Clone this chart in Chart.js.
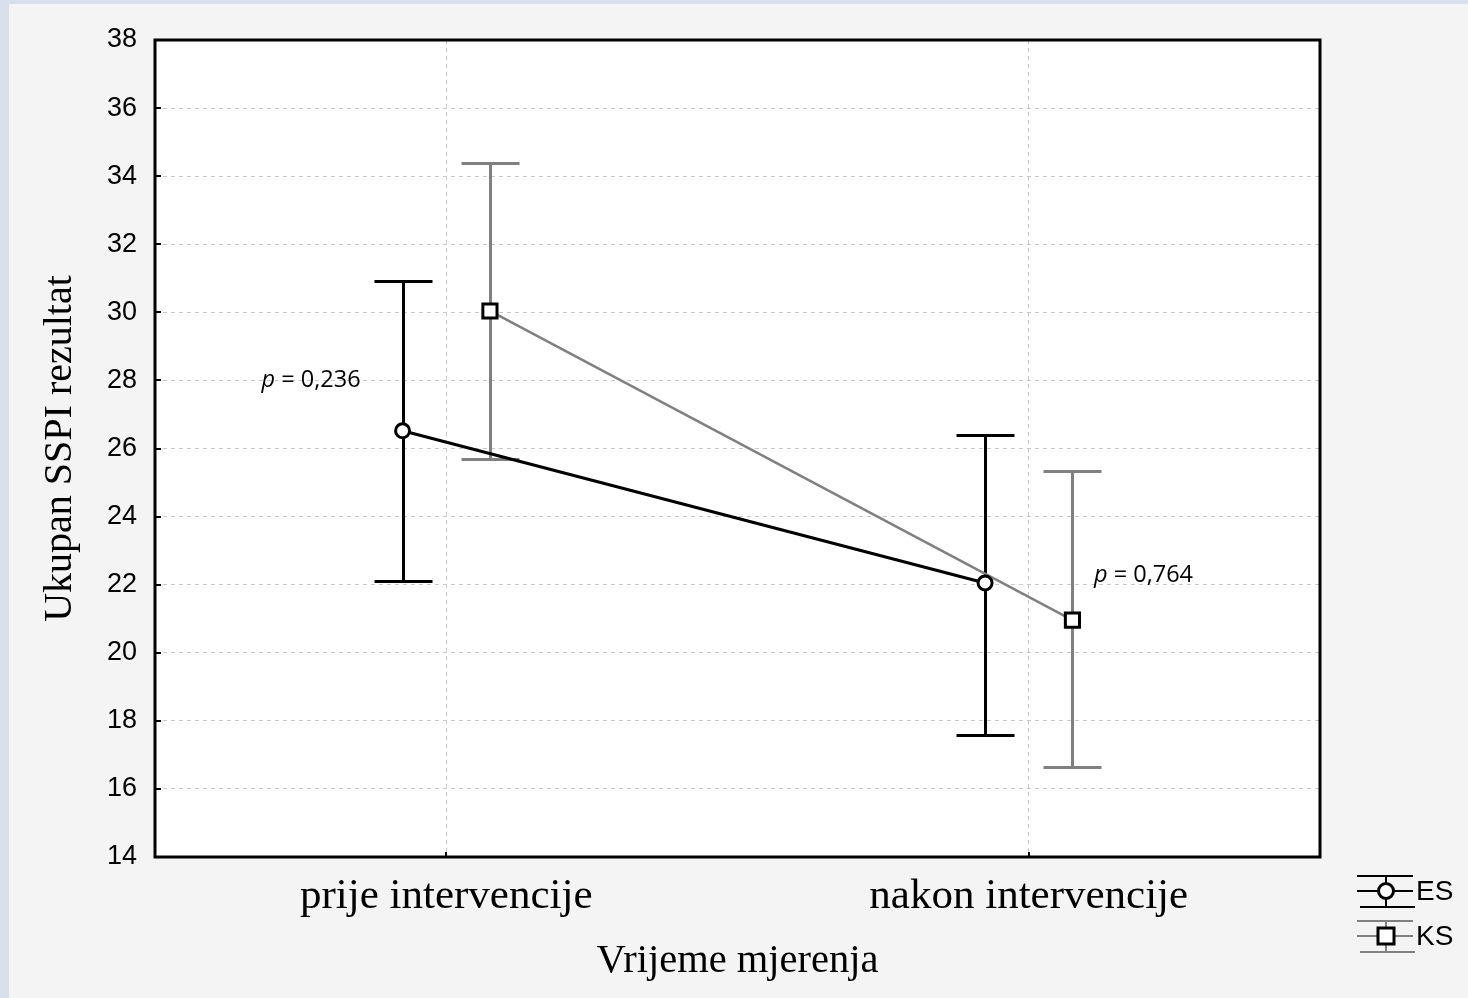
<!DOCTYPE html>
<html>
<head>
<meta charset="utf-8">
<script src="https://cdn.jsdelivr.net/npm/chart.js@4.4.0/dist/chart.umd.min.js"></script>
<style>
  html, body { margin: 0; padding: 0; background: #d9dfeb; }
  #frame { position: absolute; left: 9px; top: 4px; width: 1459px; height: 994px; background: #f4f4f4; }
  canvas { display: block; }
</style>
</head>
<body>
<div id="frame"><canvas id="c" width="1459" height="994"></canvas></div>
<script>
// Measurement times (x categories)
const categories = ['prije intervencije', 'nakon intervencije'];
// Group means and error bar limits
const esMean  = [26.52, 22.05];
const esLower = [22.11, 17.58];
const esUpper = [30.92, 26.40];
const ksMean  = [30.04, 20.96];
const ksLower = [25.70, 16.65];
const ksUpper = [34.38, 25.34];
// Y axis ticks
const yTicks = [14, 16, 18, 20, 22, 24, 26, 28, 30, 32, 34, 36, 38];
// Group comparison p-values at each time point
const pValues = ['0,236', '0,764'];
const seriesNames = ['ES', 'KS'];

const ES_COLOR = '#000000';
const KS_COLOR = '#808080';
const OFFSET = 0.075;      // horizontal dodge of each group around the category
const CAP = 29;            // half-width of error bar caps in px

function pts(means, shift) {
  return means.map((m, i) => ({ x: i + 0.5 + shift, y: m }));
}

const plotBackground = {
  id: 'plotBackground',
  beforeDraw(chart) {
    const { ctx, chartArea: a } = chart;
    ctx.save();
    ctx.fillStyle = '#ffffff';
    ctx.fillRect(a.left, a.top, a.right - a.left, a.bottom - a.top);
    ctx.restore();
  }
};

const errorBars = {
  id: 'errorBars',
  beforeDatasetsDraw(chart) {
    const { ctx, scales: { x, y } } = chart;
    const groups = [
      { lo: esLower, hi: esUpper, shift: -OFFSET, color: ES_COLOR, w: 3 },
      { lo: ksLower, hi: ksUpper, shift: OFFSET, color: KS_COLOR, w: 3 }
    ];
    ctx.save();
    groups.forEach(g => {
      ctx.strokeStyle = g.color;
      ctx.lineWidth = g.w;
      g.lo.forEach((lo, i) => {
        const px = Math.round(x.getPixelForValue(i + 0.5 + g.shift)) + 0.5;
        const yl = Math.round(y.getPixelForValue(lo)) + 0.5;
        const yh = Math.round(y.getPixelForValue(g.hi[i])) + 0.5;
        ctx.beginPath();
        ctx.moveTo(px, yl); ctx.lineTo(px, yh);
        ctx.moveTo(px - CAP, yl); ctx.lineTo(px + CAP, yl);
        ctx.moveTo(px - CAP, yh); ctx.lineTo(px + CAP, yh);
        ctx.stroke();
      });
    });
    ctx.restore();
  }
};

const frameAndNotes = {
  id: 'frameAndNotes',
  afterDraw(chart) {
    const { ctx, scales: { x, y }, chartArea: a } = chart;
    ctx.save();
    // inward tick marks
    ctx.strokeStyle = '#000';
    ctx.lineWidth = 2;
    ctx.beginPath();
    yTicks.forEach(v => {
      const py = Math.round(y.getPixelForValue(v));
      ctx.moveTo(a.left, py); ctx.lineTo(a.left + 6, py);
    });
    categories.forEach((c, i) => {
      const px = Math.round(x.getPixelForValue(i + 0.5));
      ctx.moveTo(px, a.bottom); ctx.lineTo(px, a.bottom - 5);
    });
    ctx.stroke();
    // plot frame
    ctx.lineWidth = 3;
    ctx.strokeRect(a.left, a.top, a.right - a.left, a.bottom - a.top);

    // p-value notes
    const notes = [
      { x: 0.183, y: 28.0 },
      { x: 1.612, y: 22.28 }
    ];
    ctx.fillStyle = '#000';
    ctx.textBaseline = 'middle';
    notes.forEach((n, i) => {
      let px = x.getPixelForValue(n.x);
      const py = y.getPixelForValue(n.y);
      ctx.font = 'italic 23.5px "Open Sans"';
      ctx.fillText('p', px, py);
      px += ctx.measureText('p ').width;
      ctx.font = '23.5px "Open Sans"';
      ctx.fillText('= ' + pValues[i], px, py);
    });

    // legend
    const lx = 1348, ly = [887, 932];
    const colors = [ES_COLOR, KS_COLOR];
    seriesNames.forEach((name, i) => {
      const cy = ly[i];
      const col = colors[i];
      ctx.strokeStyle = col;
      ctx.lineWidth = 2;
      ctx.beginPath();
      ctx.moveTo(lx, cy - 15); ctx.lineTo(lx + 56, cy - 15);
      ctx.moveTo(lx, cy); ctx.lineTo(lx + 56, cy);
      ctx.moveTo(lx + 3, cy + 16); ctx.lineTo(lx + 58, cy + 16);
      ctx.moveTo(lx + 29, cy - 15); ctx.lineTo(lx + 29, cy + 16);
      ctx.stroke();
      ctx.fillStyle = '#fff';
      ctx.strokeStyle = '#000';
      ctx.lineWidth = 3;
      if (i === 0) {
        ctx.beginPath();
        ctx.arc(lx + 29, cy, 7.5, 0, Math.PI * 2);
        ctx.fill(); ctx.stroke();
      } else {
        ctx.fillRect(lx + 21, cy - 8, 16, 16);
        ctx.strokeRect(lx + 21, cy - 8, 16, 16);
      }
      ctx.fillStyle = '#000';
      ctx.font = '28px "Liberation Sans"';
      ctx.textBaseline = 'middle';
      ctx.fillText(name, lx + 59, cy + 1);
    });
    ctx.restore();
  }
};

new Chart(document.getElementById('c'), {
  type: 'scatter',
  data: {
    datasets: [
      {
        label: seriesNames[0],
        data: pts(esMean, -OFFSET),
        showLine: true,
        borderColor: ES_COLOR,
        borderWidth: 3,
        pointStyle: 'circle',
        pointRadius: 7,
        pointBackgroundColor: '#fff',
        pointBorderColor: '#000',
        pointBorderWidth: 3
      },
      {
        label: seriesNames[1],
        data: pts(ksMean, OFFSET),
        showLine: true,
        borderColor: KS_COLOR,
        borderWidth: 2.5,
        pointStyle: 'rect',
        pointRadius: 10,
        pointBackgroundColor: '#fff',
        pointBorderColor: '#000',
        pointBorderWidth: 3
      }
    ]
  },
  options: {
    responsive: false,
    animation: false,
    layout: { padding: { top: 36, right: 148, left: 0, bottom: 0 } },
    plugins: { legend: { display: false }, tooltip: { enabled: false } },
    scales: {
      x: {
        type: 'linear',
        min: 0, max: 2,
        afterBuildTicks(s) { s.ticks = categories.map((c, i) => ({ value: i + 0.5 })); },
        afterFit(s) { s.height = 141; },
        grid: { color: '#c8c8c8', lineWidth: 1, drawTicks: false },
        border: { display: false, dash: [4, 4] },
        ticks: {
          padding: 14,
          color: '#000',
          font: { family: '"Liberation Serif"', size: 43 },
          callback(v) { return categories[Math.round(v - 0.5)]; }
        },
        title: {
          display: true,
          text: 'Vrijeme mjerenja',
          color: '#000',
          font: { family: '"Liberation Serif"', size: 40.5 },
          padding: { top: 0, bottom: 12 }
        }
      },
      y: {
        min: 14, max: 38,
        afterBuildTicks(s) { s.ticks = yTicks.map(v => ({ value: v })); },
        afterFit(s) { s.width = 146; },
        grid: { color: '#c8c8c8', lineWidth: 1, drawTicks: false },
        border: { display: false, dash: [4, 4] },
        ticks: {
          padding: 18,
          color: '#000',
          font: { family: '"Liberation Sans"', size: 27 }
        },
        title: {
          display: true,
          text: 'Ukupan SSPI rezultat',
          color: '#000',
          font: { family: '"Liberation Serif"', size: 40 },
          padding: { top: 27, bottom: 0 }
        }
      }
    }
  },
  plugins: [plotBackground, errorBars, frameAndNotes]
});
</script>
</body>
</html>
